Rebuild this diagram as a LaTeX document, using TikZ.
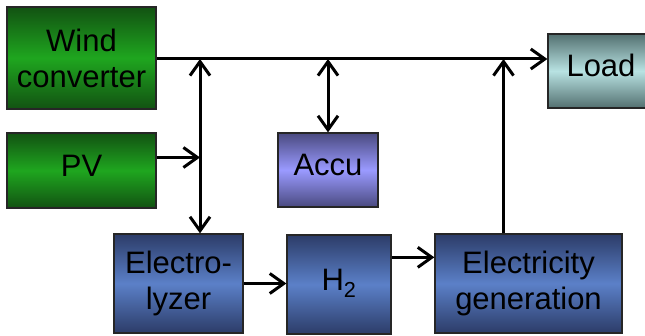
\documentclass[tikz,border=0pt]{standalone}
\usepackage{fontspec}
\setmainfont{Liberation Sans}
\usetikzlibrary{arrows.meta}
\definecolor{colgreen}{HTML}{1FA61F}
\definecolor{colgreenD}{HTML}{125212}
\definecolor{colaccu}{HTML}{9A9AFF}
\definecolor{colaccuD}{HTML}{4A4A80}
\definecolor{colblue}{HTML}{5B80C8}
\definecolor{colblueD}{HTML}{2C3C68}
\definecolor{colload}{HTML}{B8E2E2}
\definecolor{colloadD}{HTML}{537070}
\tikzset{
  >={Straight Barb[length=14pt, width=20pt]},
  block/.style={draw=black!85, line width=1.3pt, inner sep=0, align=center,
                font=\fontsize{31}{36}\selectfont},
  one line/.style={text height=22pt, text depth=10pt},
  block green/.style={block, top color=colgreenD, bottom color=colgreenD, middle color=colgreen},
  block accu/.style={block, top color=colaccuD, bottom color=colaccuD, middle color=colaccu},
  block blue/.style={block, top color=colblueD, bottom color=colblueD, middle color=colblue},
  block load/.style={block, top color=colloadD, bottom color=colloadD, middle color=colload},
  link/.style={->, line width=3pt},
  link both/.style={<->, line width=3pt},
}

\begin{document}
\begin{tikzpicture}[x=1pt, y=-1pt]
  \clip (0,0) rectangle (645,336);

  % ---- sources, storage and load
  \node[block green, minimum width=149pt, minimum height=102pt] (wind) at (81.5,58)  {Wind\\converter};
  \node[block green, one line, minimum width=149pt, minimum height=75pt] (pv) at (81.5,170.5) {PV};
  \node[block accu, one line, minimum width=100pt, minimum height=74pt] (accu) at (328,170) {Accu};
  \node[block load, one line, minimum width=106pt, minimum height=74pt] (load) at (601,71) {Load};

  % ---- hydrogen path
  \node[block blue, minimum width=129pt, minimum height=99pt] (elyz) at (178.5,283.5) {Electro-\\lyzer};
  \node[block blue, one line, minimum width=104pt, minimum height=99pt] (htwo) at (339,284.5) {H\textsubscript{2}};
  \node[block blue, minimum width=187pt, minimum height=99pt] (elec) at (528.5,283.5) {Electricity\\generation};

  % ---- bus junctions
  \coordinate (bus)  at (200,59);
  \coordinate (pvin) at ([yshift=13pt]pv.east);
  \coordinate (gen)  at ([xshift=-25pt]elec.north);
  \coordinate (hout) at ([yshift=-23pt]htwo.north east);

  % ---- connectors
  \draw[link] (wind.east |- bus) -- (load.west |- bus);
  \draw[link both] (bus) -- (bus |- elyz.north);
  \draw[link] (pvin) -- (pvin -| bus);
  \draw[link both] (accu.north |- bus) -- (accu.north);
  \draw[link] (gen) -- (gen |- bus);
  \draw[link] (elyz.east) -- (elyz.east -| htwo.west);
  \draw[link] (hout) -- (hout -| elec.west);

\end{tikzpicture}
\end{document}
